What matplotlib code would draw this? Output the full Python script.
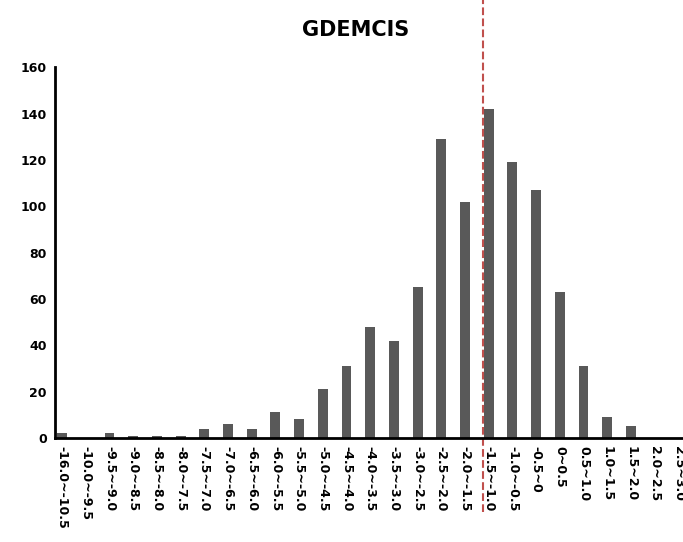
import numpy as np
import matplotlib.pyplot as plt

labels = ['-16.0~-10.5', '-10.0~-9.5', '-9.5~-9.0', '-9.0~-8.5', '-8.5~-8.0', '-8.0~-7.5',
          '-7.5~-7.0', '-7.0~-6.5', '-6.5~-6.0', '-6.0~-5.5', '-5.5~-5.0', '-5.0~-4.5',
          '-4.5~-4.0', '-4.0~-3.5', '-3.5~-3.0', '-3.0~-2.5', '-2.5~-2.0', '-2.0~-1.5',
          '-1.5~-1.0', '-1.0~-0.5', '-0.5~0', '0~0.5', '0.5~1.0', '1.0~1.5', '1.5~2.0',
          '2.0~2.5', '2.5~3.0']
counts = [2, 0, 2, 1, 1, 1, 4, 6, 4, 11, 8, 21, 31, 48, 42, 65, 129, 102,
          142, 119, 107, 63, 31, 9, 5, 0, 0]
mean_pos = 17.75

fig = plt.figure(figsize=(6.83, 5.42), dpi=100)
ax = fig.add_axes([0.0805, 0.192, 0.93, 0.684])
x = np.arange(len(labels))
ax.bar(x, counts, width=0.42, color='#595959')
ax.set_xlim(-0.3, 26.5)
ax.set_ylim(0, 160)
ax.set_yticks(range(0, 161, 20))
ax.set_xticks(x)
ax.set_xticklabels(labels, rotation=270, fontsize=9, fontweight='bold')
for t in ax.get_yticklabels():
    t.set_fontweight('bold')
    t.set_fontsize(9)
ax.tick_params(length=0, pad=6)
for s in ['top', 'right']:
    ax.spines[s].set_visible(False)
for s in ['left', 'bottom']:
    ax.spines[s].set_linewidth(2)
ax.plot([mean_pos, mean_pos], [-0.2, 1.2], transform=ax.get_xaxis_transform(),
        color='#c0504d', ls='--', lw=1.5, clip_on=False)
fig.text(0.52, 0.945, 'GDEMCIS', ha='center', va='center', fontsize=15, fontweight='bold')
fig.savefig('out.png')
